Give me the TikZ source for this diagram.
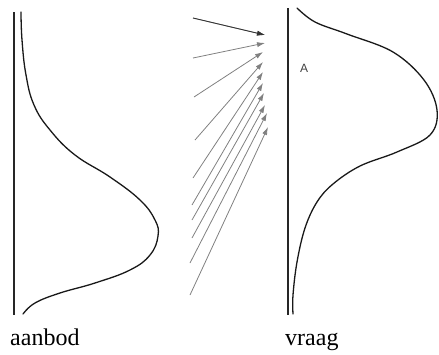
\documentclass[tikz,border=0pt]{standalone}
\usepackage{fontspec}
\setmainfont{Liberation Serif}
\newfontfamily\labelsans{Liberation Sans}
\usetikzlibrary{arrows.meta}

\begin{document}
\begin{tikzpicture}[
x=1pt, y=-1pt,
axis/.style={line width=1.1pt, black!85},
curve/.style={line width=1.3pt, black!90, line cap=round},
arrow/.style={-{Latex[length=2.8mm, width=1.8mm]}, line width=0.8pt, black!50},
lbl/.style={anchor=base west, inner sep=0pt, font=\fontsize{24}{28}\selectfont},
tag/.style={inner sep=0pt, font=\labelsans\fontsize{12}{14}\selectfont, black!75}
]
\useasboundingbox (0,0) rectangle (439,354);

% aanbod
\draw[axis] (14,12) -- (14,315);
\draw[curve] plot[smooth, tension=0.7] coordinates {(21,12) (22,40) (26,75) (34,105) (50,130) (75,155) (110,177) (140,200) (155,220) (158,236) (150,255) (130,270) (95,283) (60,293) (35,303) (23,314)};
\node[lbl] (aanbod) at (10,345) {aanbod};

% vraag
\draw[axis] (288,8) -- (288,315);
\draw[curve] plot[smooth, tension=0.6] coordinates {(297,8) (315,22) (347,34) (393,52) (424,80) (437,110) (430,135) (397,152) (360,166) (333,184) (317,202) (305,228) (297,262) (293,295) (293,314)};
\node[tag] (A) at (304,68) {A};
\node[lbl] (vraag) at (285,345) {vraag};

% pijlen
\foreach \tx/\ty/\hx/\hy [count=\i] in {193/18/265/35, 193/58/265/43, 194/97/263/52, 195/140/263/62, 193/178/263/72, 192/205/263/83, 192/220/264/93, 192/238/265/105, 190/263/267/113, 190/295/268/127} {
  \coordinate (t\i) at (\tx,\ty);
  \coordinate (h\i) at (\hx,\hy);
  \draw[arrow] (t\i) -- (h\i);
}
\draw[arrow, black!80] (t1) -- (h1);
\end{tikzpicture}
\end{document}
